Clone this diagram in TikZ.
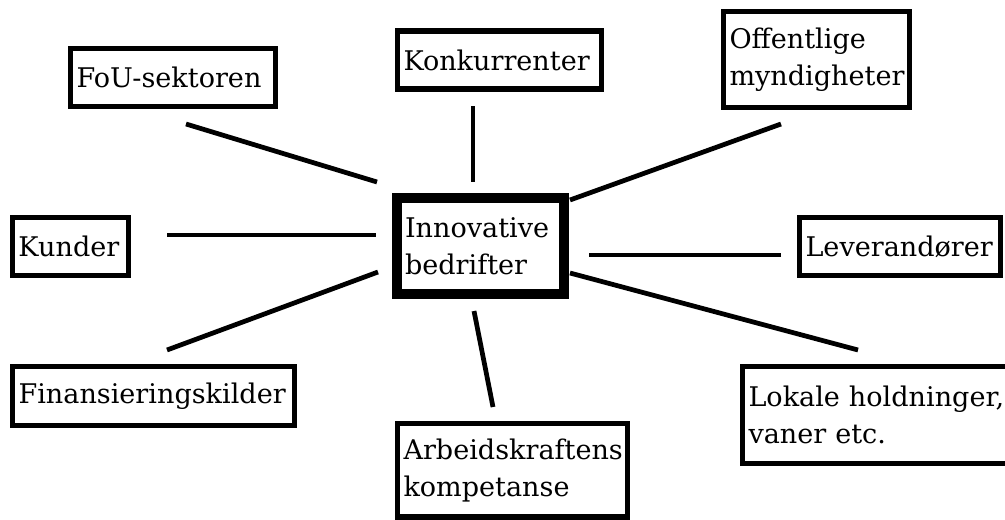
\documentclass[tikz,border=0pt]{standalone}
\usepackage{fontspec}
\setmainfont{DejaVu Serif}
\usepackage{tikz}
\usetikzlibrary{positioning}
\tikzset{
  factorbox/.style={rectangle,draw=black,line width=2.9pt,fill=white,
    font=\fontsize{15.4pt}{21pt}\selectfont,align=left,
    inner xsep=0.12cm,inner ysep=0pt,
    text width=#1,minimum height=1.16cm},
  factorbox/.default={3cm},
  corebox/.style={rectangle,draw=black,line width=5.7pt,fill=white,
    font=\fontsize{15.4pt}{21pt}\selectfont,align=left,
    inner xsep=0.16cm,inner ysep=0pt,
    text width=3.02cm,minimum height=1.92cm},
  link/.style={line width=2.7pt,black},
}
\begin{document}
\begin{tikzpicture}
  \useasboundingbox (0,0) rectangle (20.1,10.38);
  % centre
  \node[corebox] (innov) at (9.61,5.46) {Innovative\\bedrifter};
  % factors around it
  \node[factorbox=3.86cm] (fou) at (3.46,8.83) {FoU-sektoren};
  \node[factorbox=3.84cm] (konk) at (9.99,9.18) {Konkurrenter};
  \node[factorbox=3.48cm,minimum height=1.92cm] (off) at (16.33,9.19) {Offentlige\\myndigheter};
  \node[factorbox=2.08cm] (kunder) at (1.41,5.45) {Kunder};
  \node[factorbox=5.40cm,minimum height=1.18cm] (fin) at (3.07,2.46) {Finansieringskilder};
  \node[factorbox=3.78cm] (lev) at (18.0,5.45) {Leverandører};
  \node[factorbox=5.06cm,minimum height=1.94cm] (lok) at (17.5,2.08) {\mbox{Lokale holdninger,}\\vaner etc.};
  \node[factorbox=4.36cm,minimum height=1.87cm] (arb) at (10.25,0.975) {Arbeidskraftens\\kompetanse};
  % line ends
  \coordinate (fou-a) at (3.72,7.90);   \coordinate (fou-b) at (7.54,6.74);
  \coordinate (konk-a) at (9.46,8.26);  \coordinate (konk-b) at (9.46,6.74);
  \coordinate (off-a) at (15.62,7.90);  \coordinate (off-b) at (11.40,6.38);
  \coordinate (kunder-a) at (3.34,5.68); \coordinate (kunder-b) at (7.52,5.68);
  \coordinate (fin-a) at (3.34,3.38);   \coordinate (fin-b) at (7.56,4.94);
  \coordinate (lev-a) at (15.62,5.28);  \coordinate (lev-b) at (11.78,5.28);
  \coordinate (lok-a) at (17.16,3.38);  \coordinate (lok-b) at (11.40,4.92);
  \coordinate (arb-a) at (9.86,2.24);   \coordinate (arb-b) at (9.48,4.16);
  \foreach \f in {fou,konk,off,kunder,fin,lev,lok,arb}
    \draw[link] (\f-a) -- (\f-b);
\end{tikzpicture}
\end{document}
